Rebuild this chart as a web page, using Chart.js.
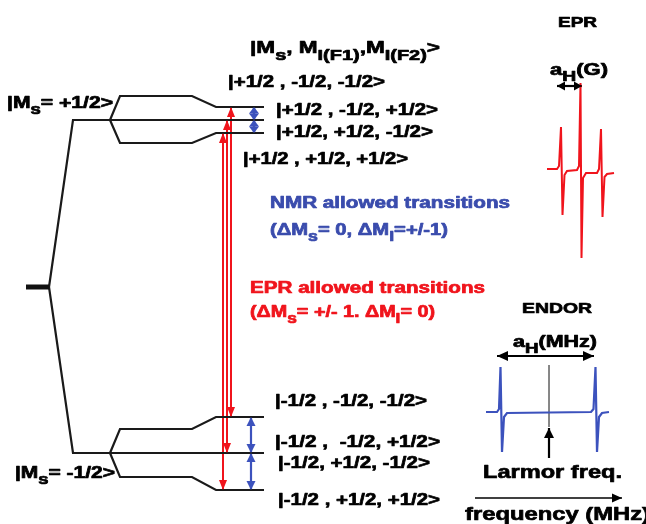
<!DOCTYPE html>
<html>
<head>
<meta charset="utf-8">
<script src="https://cdn.jsdelivr.net/npm/chart.js@4.4.1/dist/chart.umd.min.js"></script>
<style>
  html, body { margin: 0; padding: 0; background: #fff; }
  #wrap { width: 646px; height: 524px; }
</style>
</head>
<body>
<div id="wrap"><canvas id="diagram" width="646" height="524"></canvas></div>
<script>
// --- energy level diagram (y runs downward like the figure) ---
const zeroFieldBar = [26, 49];
const zeroFieldEnergy = 287;
const msEnergies = [120, 453];            // |Ms=+1/2>, |Ms=-1/2>
const msStartX = 73;
const splitX = [110, 120, 192, 216, 264];
const msPlusBranches = [
  [120, 96, 96, 107, 107],
  [120, 143, 143, 133, 133]
];
const msMinusBranches = [
  [453, 429, 429, 417, 417],
  [453, 477, 477, 490, 490]
];

// transitions
const eprArrowX = [223, 227, 231];
const eprFrom = [490, 453, 417];
const eprTo = [133, 120, 107];
const nmrUpperX = 254;
const nmrUpperLevels = [107, 120, 133];
const nmrLowerX = 251;
const nmrLowerLevels = [417, 453, 490];

// EPR spectrum (red)
const eprSpecX = [547, 557, 559, 561, 562.5, 564.5, 567, 577, 579, 580.5, 581.5, 583, 586, 597, 599, 601, 602.5, 604.5, 607, 614];
const eprSpecY = [169, 169, 166, 127, 215, 175, 171, 170, 166, 83, 258, 178, 173, 173, 169, 129, 217, 177, 174, 173];

// ENDOR spectrum (blue)
const endorSpecX = [486, 497, 499, 500.5, 502, 504, 507, 591, 593.5, 595.5, 597, 599, 602, 609];
const endorSpecY = [412, 412, 409, 367, 452, 417, 413, 412, 409, 367, 452, 417, 413, 412];
const larmorX = 549;
const larmorLine = [365, 427];
const larmorArrow = [458, 428];
const eprSplitX = [557, 582], eprSplitY = 86;
const endorSplitX = [497, 594], endorSplitY = 356;
const freqAxisX = [475, 622], freqAxisY = 498;

const RED = '#f0141c';
const BLUE = '#3c52bd';
const TEXT_BLUE = '#3a4cad';

const labels = [
  { t: '|M_{s}, M_{I(F1)},M_{I(F2)}>', x: 250, y: 47, s: 17, w: 190 },
  { t: '|+1/2 , -1/2, -1/2>', x: 228, y: 81, s: 17, w: 157 },
  { t: '|+1/2 , -1/2, +1/2>', x: 276, y: 109, s: 17, w: 162 },
  { t: '|+1/2, +1/2, -1/2>', x: 276, y: 131, s: 17, w: 157 },
  { t: '|+1/2 , +1/2, +1/2>', x: 243, y: 158, s: 17, w: 165 },
  { t: '|M_{s}= +1/2>', x: 7, y: 102, s: 16, w: 106 },
  { t: '|M_{s}= -1/2>', x: 15, y: 472, s: 16, w: 100 },
  { t: 'NMR allowed transitions', x: 270, y: 202, s: 16, w: 240, c: TEXT_BLUE },
  { t: '(ΔM_{s}= 0, ΔM_{I}=+/-1)', x: 270, y: 229, s: 16, w: 178, c: TEXT_BLUE },
  { t: 'EPR allowed transitions', x: 250, y: 287, s: 16, w: 235, c: RED },
  { t: '(ΔM_{s}= +/- 1. ΔM_{I}= 0)', x: 250, y: 311, s: 16, w: 185, c: RED },
  { t: '|-1/2 , -1/2, -1/2>', x: 275, y: 400, s: 17, w: 152 },
  { t: '|-1/2 ,  -1/2, +1/2>', x: 275, y: 441, s: 17, w: 165 },
  { t: '|-1/2, +1/2, -1/2>', x: 278, y: 462, s: 17, w: 152 },
  { t: '|-1/2 , +1/2, +1/2>', x: 278, y: 499, s: 17, w: 162 },
  { t: 'EPR', x: 558, y: 22, s: 15, w: 39 },
  { t: 'a_{H}(G)', x: 550, y: 69, s: 16, w: 58 },
  { t: 'ENDOR', x: 522, y: 308, s: 15, w: 70 },
  { t: 'a_{H}(MHz)', x: 513, y: 341, s: 16, w: 84 },
  { t: 'Larmor freq.', x: 483, y: 471, s: 19, w: 139 },
  { t: 'frequency (MHz)', x: 465, y: 513, s: 19, w: 185 }
];

function pts(xs, ys) {
  return xs.map((x, i) => ({ x: x, y: Array.isArray(ys) ? ys[i] : ys }));
}

function line(data, color, width, extra) {
  return Object.assign({
    data: data, showLine: true, borderColor: color, backgroundColor: color,
    borderWidth: width, pointRadius: 0, tension: 0, fill: false
  }, extra || {});
}

const datasets = [];

// zero-field bar and the two Ms manifolds
datasets.push(line(pts(zeroFieldBar, zeroFieldEnergy), '#111', 5));
msEnergies.forEach(e => {
  datasets.push(line(pts([zeroFieldBar[1], msStartX, splitX[splitX.length - 1]], [zeroFieldEnergy, e, e]), '#1a1a1a', 2.2));
});
msPlusBranches.concat(msMinusBranches).forEach(b => {
  datasets.push(line(pts(splitX, b), '#1a1a1a', 2.2));
});

// EPR transitions (red, double headed)
eprArrowX.forEach((x, i) => {
  datasets.push(line(pts([x, x], [eprFrom[i], eprTo[i]]), RED, 2, { arrow: { start: true, end: true, len: 10, half: 4 } }));
});

// NMR transitions (blue, double headed)
for (let i = 0; i < 2; i++) {
  datasets.push(line(pts([nmrUpperX, nmrUpperX], [nmrUpperLevels[i], nmrUpperLevels[i + 1]]), BLUE, 2.5, { arrow: { start: true, end: true, len: 6.5, half: 5 } }));
  datasets.push(line(pts([nmrLowerX, nmrLowerX], [nmrLowerLevels[i], nmrLowerLevels[i + 1]]), BLUE, 2.2, { arrow: { start: true, end: true, len: 9, half: 4.5 } }));
}

// spectra
datasets.push(line(pts(eprSpecX, eprSpecY), RED, 2));
datasets.push(line(pts(endorSpecX, endorSpecY), BLUE, 2.2));
datasets.push(line(pts([larmorX, larmorX], larmorLine), '#777', 1));
datasets.push(line(pts([larmorX, larmorX], larmorArrow), '#000', 2.2, { arrow: { end: true, len: 10, half: 5 } }));
datasets.push(line(pts(eprSplitX, eprSplitY), '#000', 2.2, { arrow: { start: true, end: true, len: 8, half: 4.5 } }));
datasets.push(line(pts(endorSplitX, endorSplitY), '#000', 2.2, { arrow: { start: true, end: true, len: 11, half: 5 } }));
datasets.push(line(pts(freqAxisX, freqAxisY), '#000', 1.6, { arrow: { end: true, len: 10, half: 4.5 } }));

const arrowPlugin = {
  id: 'arrowHeads',
  afterDatasetsDraw(chart) {
    const ctx = chart.ctx;
    chart.data.datasets.forEach((ds, i) => {
      if (!ds.arrow) return;
      const pts = chart.getDatasetMeta(i).data;
      const head = (tip, from) => {
        const dx = tip.x - from.x, dy = tip.y - from.y;
        const d = Math.hypot(dx, dy) || 1;
        const ux = dx / d, uy = dy / d;
        const bx = tip.x - ux * ds.arrow.len, by = tip.y - uy * ds.arrow.len;
        ctx.beginPath();
        ctx.moveTo(tip.x, tip.y);
        ctx.lineTo(bx - uy * ds.arrow.half, by + ux * ds.arrow.half);
        ctx.lineTo(bx + uy * ds.arrow.half, by - ux * ds.arrow.half);
        ctx.closePath();
        ctx.fill();
      };
      ctx.save();
      ctx.fillStyle = ds.borderColor;
      if (ds.arrow.end) head(pts[pts.length - 1], pts[pts.length - 2]);
      if (ds.arrow.start) head(pts[0], pts[1]);
      ctx.restore();
    });
  }
};

function parseRich(t) {
  const segs = [];
  const re = /_\{([^}]*)\}/g;
  let last = 0, m;
  while ((m = re.exec(t))) {
    if (m.index > last) segs.push({ s: t.slice(last, m.index), sub: false });
    segs.push({ s: m[1], sub: true });
    last = re.lastIndex;
  }
  if (last < t.length) segs.push({ s: t.slice(last), sub: false });
  return segs;
}

const labelPlugin = {
  id: 'labels',
  afterDatasetsDraw(chart) {
    const ctx = chart.ctx;
    const sx = chart.scales.x, sy = chart.scales.y;
    labels.forEach(l => {
      const segs = parseRich(l.t);
      const mainFont = 'bold ' + l.s + 'px "Liberation Sans", Arial, sans-serif';
      const subFont = 'bold ' + Math.round(l.s * 0.9) + 'px "Liberation Sans", Arial, sans-serif';
      let natural = 0;
      segs.forEach(g => {
        ctx.font = g.sub ? subFont : mainFont;
        g.w = ctx.measureText(g.s).width;
        natural += g.w;
      });
      const px = sx.getPixelForValue(l.x);
      const base = sy.getPixelForValue(l.y) + l.s * 0.36;
      ctx.save();
      ctx.translate(px, base);
      ctx.scale(l.w / natural, 1);
      ctx.fillStyle = l.c || '#000';
      ctx.strokeStyle = l.c || '#000';
      ctx.lineWidth = 0.7;
      ctx.lineJoin = 'round';
      ctx.textBaseline = 'alphabetic';
      let cx = 0;
      segs.forEach(g => {
        ctx.font = g.sub ? subFont : mainFont;
        const dy = g.sub ? l.s * 0.4 : 0;
        ctx.fillText(g.s, cx, dy);
        ctx.strokeText(g.s, cx, dy);
        cx += g.w;
      });
      ctx.restore();
    });
  }
};

new Chart(document.getElementById('diagram'), {
  type: 'scatter',
  data: { datasets: datasets },
  options: {
    responsive: false,
    animation: false,
    layout: { padding: 0 },
    plugins: { legend: { display: false }, tooltip: { enabled: false } },
    scales: {
      x: { type: 'linear', min: 0, max: 646, display: false },
      y: { type: 'linear', min: 0, max: 524, reverse: true, display: false }
    }
  },
  plugins: [arrowPlugin, labelPlugin]
});
</script>
</body>
</html>
